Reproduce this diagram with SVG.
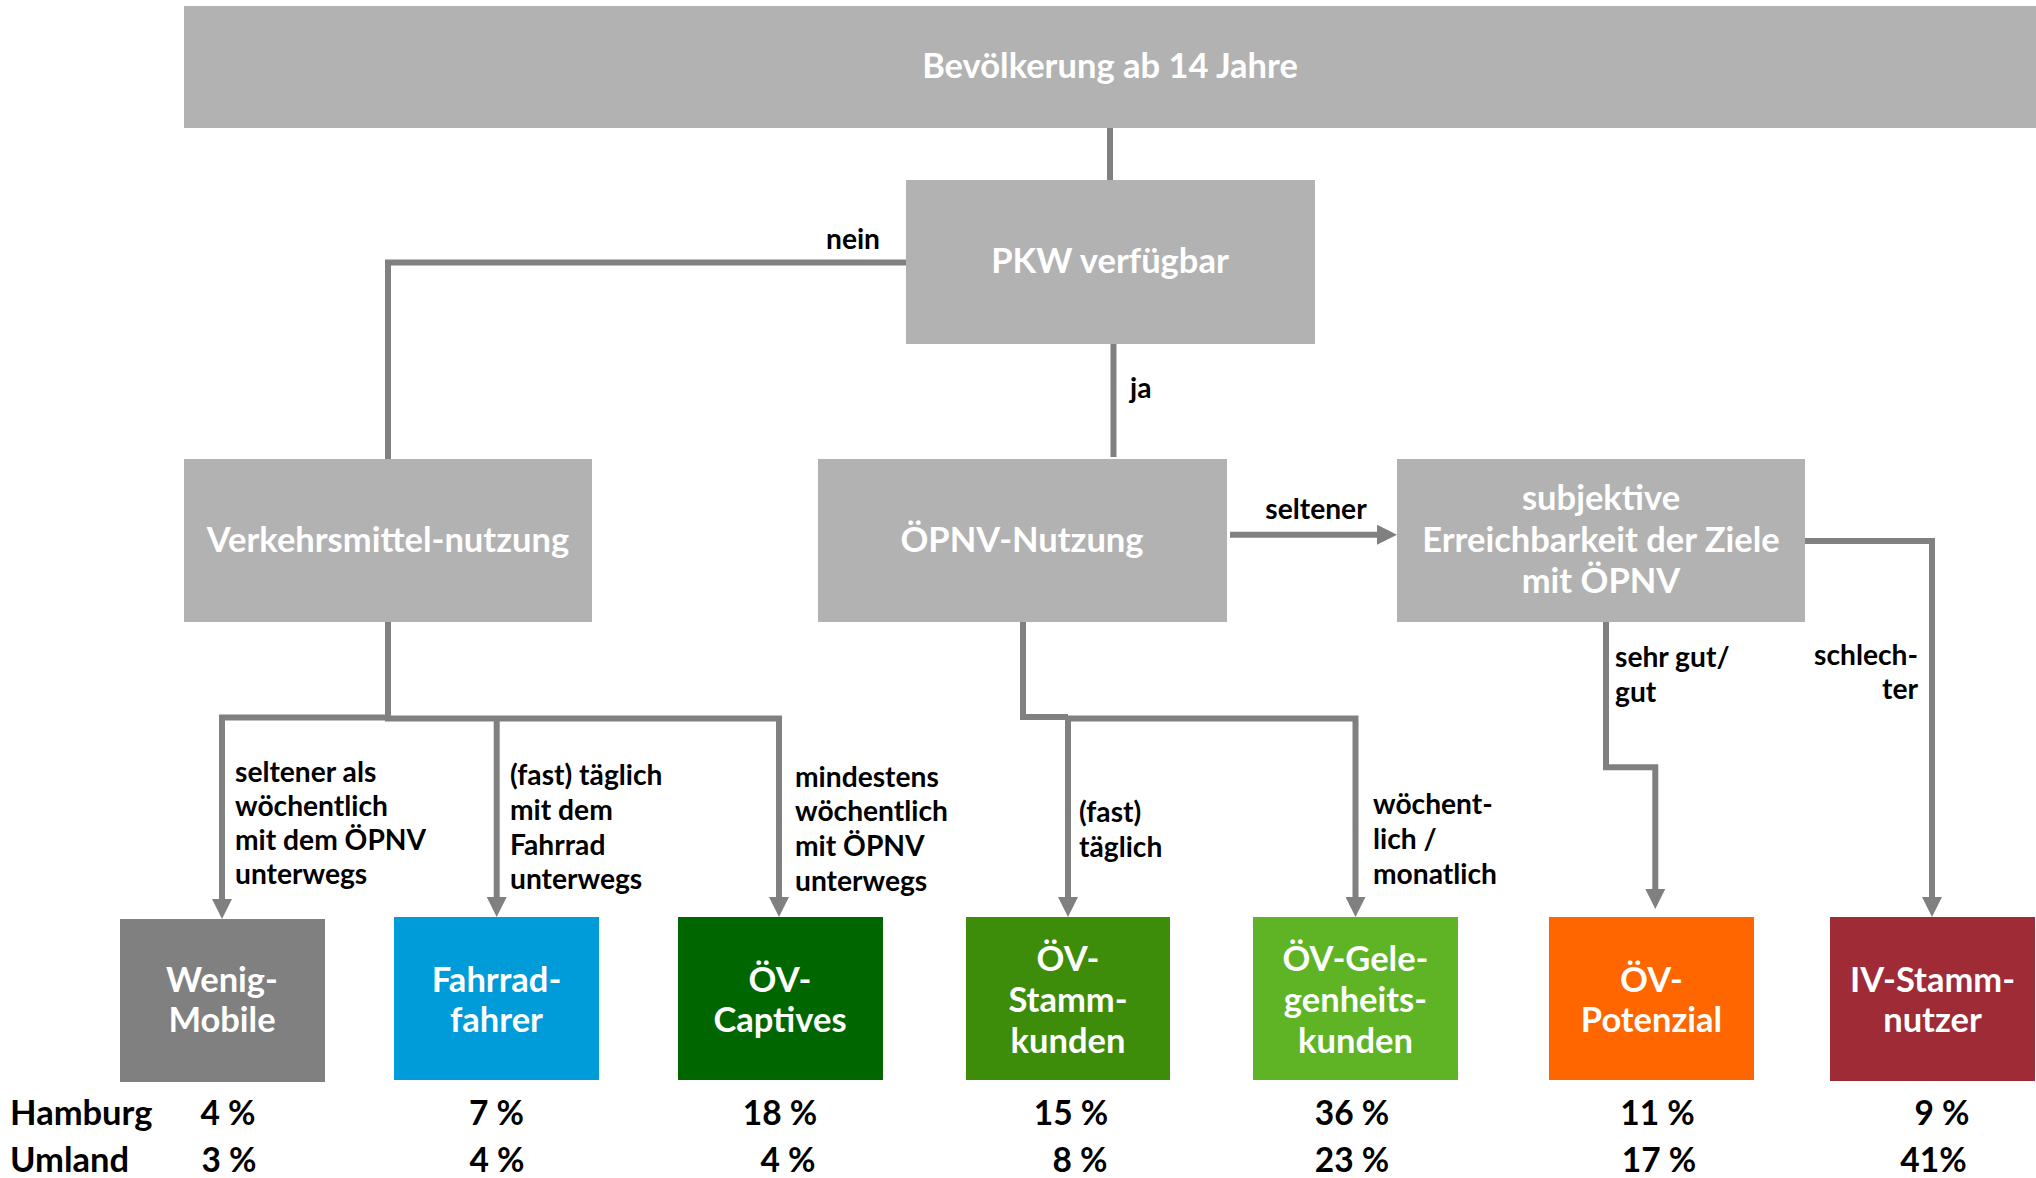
<svg xmlns="http://www.w3.org/2000/svg" width="2036" height="1178" viewBox="0 0 2036 1178">
<style>
.box{fill:#b2b2b2}
.nt{font-family:Lato,"Open Sans","Liberation Sans",sans-serif;font-weight:700;font-size:34.5px;fill:#ffffff;text-anchor:middle}
.lb{font-family:Lato,"Open Sans","Liberation Sans",sans-serif;font-weight:700;font-size:28.2px;fill:#000000}
.rw{font-family:Lato,"Open Sans","Liberation Sans",sans-serif;font-weight:700;font-size:34.5px;fill:#000000}
.pc{font-family:Lato,"Open Sans","Liberation Sans",sans-serif;font-weight:700;font-size:33.5px;fill:#000000;text-anchor:middle}
.ln{fill:none;stroke:#808080;stroke-width:6;stroke-linejoin:miter}
.ar{marker-end:url(#ah)}
</style>
<defs>
<marker id="ah" markerUnits="userSpaceOnUse" viewBox="0 0 20 20" markerWidth="20" markerHeight="20" refX="0" refY="10" orient="auto">
<path d="M0,0 L20,10 L0,20 Z" fill="#808080"/>
</marker>
</defs>
<rect width="2036" height="1178" fill="#ffffff"/>

<g id="connectors">
<path class="ln" d="M1110,128 V180"/>
<path class="ln" d="M906,262.5 H388 V459"/>
<path class="ln" d="M1113.5,344 V457"/>
<path class="ln ar" d="M1230,534.7 H1377"/>
<path class="ln" d="M388,622 V717.5"/>
<path class="ln ar" d="M391,717.5 H222 V899"/>
<path class="ln ar" d="M385,718.5 H779 V897"/>
<path class="ln ar" d="M496.7,718.5 V897"/>
<path class="ln" d="M1023,622 V717 H1068"/>
<path class="ln ar" d="M1065,718.5 H1355.5 V897"/>
<path class="ln ar" d="M1068,717 V897"/>
<path class="ln ar" d="M1606,622 V767.3 H1655.3 V889"/>
<path class="ln ar" d="M1805,541 H1932 V897"/>
</g>

<g id="labels">
<text class="lb" x="880" y="249" text-anchor="end">nein</text>
<text class="lb" x="1130" y="398">ja</text>
<text class="lb" x="1316" y="519" text-anchor="middle">seltener</text>
<text class="lb" x="235"><tspan x="235" y="782">seltener als</tspan><tspan x="235" y="816">wöchentlich</tspan><tspan x="235" y="850">mit dem ÖPNV</tspan><tspan x="235" y="884">unterwegs</tspan></text>
<text class="lb" x="510"><tspan x="510" y="785">(fast) täglich</tspan><tspan x="510" y="820">mit dem</tspan><tspan x="510" y="855">Fahrrad</tspan><tspan x="510" y="889">unterwegs</tspan></text>
<text class="lb" x="795"><tspan x="795" y="787">mindestens</tspan><tspan x="795" y="821">wöchentlich</tspan><tspan x="795" y="856">mit ÖPNV</tspan><tspan x="795" y="891">unterwegs</tspan></text>
<text class="lb" x="1079"><tspan x="1079" y="822">(fast)</tspan><tspan x="1079" y="857">täglich</tspan></text>
<text class="lb" x="1373"><tspan x="1373" y="814">wöchent-</tspan><tspan x="1373" y="849">lich /</tspan><tspan x="1373" y="884">monatlich</tspan></text>
<text class="lb" x="1615"><tspan x="1615" y="667">sehr gut/</tspan><tspan x="1615" y="702">gut</tspan></text>
<text class="lb" x="1918" text-anchor="end"><tspan x="1918" y="665">schlech-</tspan><tspan x="1918" y="699">ter</tspan></text>
</g>

<g id="n-bevoelkerung"><rect class="box" x="184" y="6" width="1852" height="122"/><text class="nt" x="1110" y="78">Bevölkerung ab 14 Jahre</text></g>
<g id="n-pkw"><rect class="box" x="906" y="180" width="409" height="164"/><text class="nt" x="1110" y="273">PKW verfügbar</text></g>
<g id="n-verkehrsmittel"><rect class="box" x="184" y="459" width="408" height="163"/><text class="nt" x="388" y="552">Verkehrsmittel-nutzung</text></g>
<g id="n-oepnv"><rect class="box" x="818" y="459" width="409" height="163"/><text class="nt" x="1022" y="552">ÖPNV-Nutzung</text></g>
<g id="n-subjektiv"><rect class="box" x="1397" y="459" width="408" height="163"/><text class="nt"><tspan x="1601" y="510">subjektive</tspan><tspan x="1601" y="552">Erreichbarkeit der Ziele</tspan><tspan x="1601" y="593">mit ÖPNV</tspan></text></g>

<g id="n-wenig"><rect x="120" y="919" width="205" height="163" fill="#808080"/><text class="nt"><tspan x="222" y="992">Wenig-</tspan><tspan x="222" y="1032">Mobile</tspan></text></g>
<g id="n-fahrrad"><rect x="394" y="917" width="205" height="163" fill="#009bd9"/><text class="nt"><tspan x="496.5" y="992">Fahrrad-</tspan><tspan x="496.5" y="1032">fahrer</tspan></text></g>
<g id="n-captives"><rect x="678" y="917" width="205" height="163" fill="#006600"/><text class="nt"><tspan x="780" y="992">ÖV-</tspan><tspan x="780" y="1032">Captives</tspan></text></g>
<g id="n-stamm"><rect x="966" y="917" width="204" height="163" fill="#3d8c0a"/><text class="nt"><tspan x="1068" y="971">ÖV-</tspan><tspan x="1068" y="1012">Stamm-</tspan><tspan x="1068" y="1053">kunden</tspan></text></g>
<g id="n-gelegenheit"><rect x="1253" y="917" width="205" height="163" fill="#5eb425"/><text class="nt"><tspan x="1355.5" y="971">ÖV-Gele-</tspan><tspan x="1355.5" y="1012">genheits-</tspan><tspan x="1355.5" y="1053">kunden</tspan></text></g>
<g id="n-potenzial"><rect x="1549" y="917" width="205" height="163" fill="#ff6600"/><text class="nt"><tspan x="1651.5" y="992">ÖV-</tspan><tspan x="1651.5" y="1032">Potenzial</tspan></text></g>
<g id="n-iv"><rect x="1830" y="917" width="205" height="164" fill="#9e2b35"/><text class="nt"><tspan x="1932.5" y="992">IV-Stamm-</tspan><tspan x="1932.5" y="1032">nutzer</tspan></text></g>

<g id="stats">
<text class="rw" x="10" y="1125">Hamburg</text>
<text class="rw" x="10" y="1172">Umland</text>
<text class="pc" x="228" y="1125">4 %</text><text class="pc" x="229" y="1172">3 %</text>
<text class="pc" x="496.5" y="1125">7 %</text><text class="pc" x="497" y="1172">4 %</text>
<text class="pc" x="780" y="1125">18 %</text><text class="pc" x="788" y="1172">4 %</text>
<text class="pc" x="1071" y="1125">15 %</text><text class="pc" x="1080" y="1172">8 %</text>
<text class="pc" x="1352" y="1125">36 %</text><text class="pc" x="1352" y="1172">23 %</text>
<text class="pc" x="1657.5" y="1125">11 %</text><text class="pc" x="1659" y="1172">17 %</text>
<text class="pc" x="1942" y="1125">9 %</text><text class="pc" x="1933.5" y="1172">41%</text>
</g>
</svg>
